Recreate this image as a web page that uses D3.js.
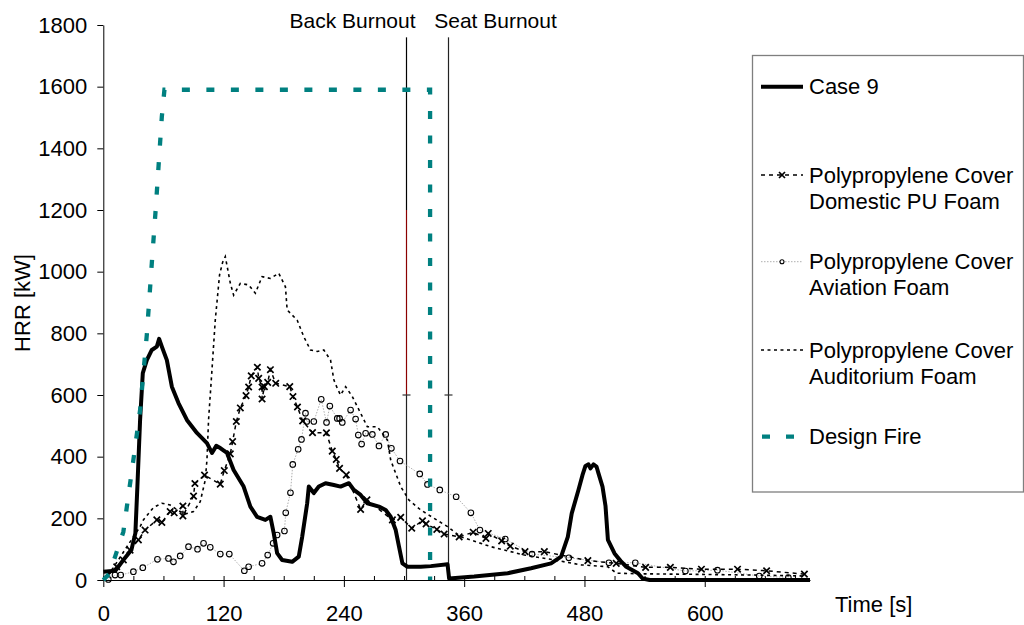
<!DOCTYPE html>
<html><head><meta charset="utf-8">
<script src="https://cdn.jsdelivr.net/npm/d3@7"></script>
<style>
body{margin:0;background:#fff;}
svg{display:block;font-family:Arial,"Liberation Sans",sans-serif;}
</style></head>
<body><svg id="chart" width="1024" height="625"></svg>
<script>
// ---- data (time [s], HRR [kW]) ----
const case9 = [[0,27],[12,30],[20,65],[28,97],[32,152],[34,303],[36.7,519],[39.4,671],[43.4,713],[48.4,746],[53.4,757],[55.7,782],[58.4,757],[63.4,713],[68.4,627],[75,574],[83.4,519],[93.4,477],[103.4,444],[108.4,412],[112.7,435],[116.7,428],[123.4,412],[130,357],[140,303],[146.7,238],[153.4,205],[161.7,195],[166.7,205],[170,152],[173.4,87],[178.4,65],[188.4,59],[195,76],[198.4,140],[203.4,249],[205,303],[210,282],[215,303],[221.7,314],[230,308],[236.7,303],[245,314],[250,292],[256.7,276],[263.4,249],[275,238],[281.7,227],[286.7,205],[291.7,162],[295,108],[298.4,54],[303.4,43],[316.7,43],[326.7,45],[343.4,51],[345,5],[370,11],[403.4,22],[426.7,38],[446.7,54],[456.7,76],[463.4,140],[467.3,216],[474,292],[478,340],[481,370],[484,375],[486,362],[489,375],[492,368],[494,346],[498,303],[501,240],[503.4,130],[510,86],[516,62],[521.7,43],[533.4,22],[538,5],[545,0],[705,0]];

const puFoam = [[0,0],[13.4,43],[20,65],[26.7,97],[35,130],[41.7,162],[53.4,195],[58.4,187],[66.7,222],[70.7,218],[79.4,240],[79.4,208],[90,272],[91.4,313],[101,340],[116.7,311],[120.7,355],[126.7,409],[129,449],[132.7,514],[136.7,558],[142.4,598],[145,626],[147.6,662],[153.7,690],[155,654],[158.4,626],[158.4,587],[160.7,627],[164,641],[166.7,682],[172,638],[186,627],[189.2,595],[193.7,561],[198.9,516],[208.7,478],[222.6,477],[228.4,418],[232.4,391],[235.7,362],[242.4,341],[256.7,229],[263,260],[288.4,195],[296.7,203],[307.7,168],[318.4,192],[322,182],[332.7,164],[340,149],[355,140],[369,155],[381.7,135],[384,151],[397.4,127],[406,110],[420.7,92],[440,92],[483.4,63],[511.7,54],[541,41],[565.7,41],[596.7,35],[632.7,35],[661.7,30],[699.4,19]];

const aviationFoam = [[5,2],[11.7,16],[17.4,16],[30,27],[39.4,40],[54,67],[65,70],[70,59],[76.7,78],[85,108],[94,100],[100,119],[106.7,106],[116.7,84],[125.7,84],[140.7,30],[145,43],[158.4,54],[164,81],[169.4,119],[173.4,146],[180.7,159],[182,218],[186.7,283],[189,375],[194.4,424],[197.7,456],[201.7,541],[203,514],[210,514],[217.4,586],[222.7,511],[226,564],[233.4,524],[235.7,524],[238.4,511],[246.7,551],[251.7,522],[254.4,470],[257.7,441],[261.7,476],[268.4,472],[275,435],[281.7,472],[287.4,427],[296,386],[315.7,344],[323.4,310],[335.7,292],[352,270],[366.7,218],[375.7,162],[401,133],[427.7,84],[464.4,72],[504.4,56],[530.7,56],[580.7,29],[612.7,32],[654.4,13],[683.4,8]];

const auditoriumFoam = [[0,0],[10,40],[20,90],[30,140],[36.7,173],[40,195],[50,235],[58.4,249],[66.7,243],[75,225],[82,214],[90,222],[96.7,254],[101.7,324],[103.4,389],[105,519],[108.4,681],[111.7,843],[116,990],[119,1030],[121.7,1049],[126.7,963],[130,924],[136.7,962],[145,957],[151.7,930],[158.4,984],[166.7,978],[175,995],[181.7,951],[183.4,876],[193.4,843],[200,789],[206.7,746],[213.4,741],[220,746],[226.7,713],[230,649],[233.4,622],[236.7,600],[241.7,627],[248.4,595],[256.7,541],[263.4,497],[273.4,497],[283.4,454],[286.7,389],[296.7,303],[305,259],[316.7,227],[330,200],[343.4,173],[356.7,140],[386.7,108],[420,81],[450,65],[476.7,49],[503.4,43],[512,22],[540,20],[600,18],[650,16],[700,13]];

const designFire = [[0,0],[6,20],[11.7,75],[20,156],[30,389],[36.7,551],[43.4,795],[48.4,1028],[52,1190],[58.4,1503],[61,1590],[326,1590],[326,0]];

const burnouts = [{label:"Back Burnout", t:301.7}, {label:"Seat Burnout", t:343.6}];
const burnoutTop = 1760, burnoutCap = 600, burnoutRedTop = 1200;

const yTicks = [0,200,400,600,800,1000,1200,1400,1600,1800];
const xTicks = [0,120,240,360,480,600];
const xMinorStep = 30;

const legendItems = [
  {key:"case9", lines:["Case 9"]},
  {key:"pu", lines:["Polypropylene Cover","Domestic PU Foam"]},
  {key:"av", lines:["Polypropylene Cover","Aviation Foam"]},
  {key:"aud", lines:["Polypropylene Cover","Auditorium Foam"]},
  {key:"df", lines:["Design Fire"]}
];

// ---- drawing ----
const svg = d3.select("#chart");
const x = d3.scaleLinear().domain([0,705]).range([103.3,810]);
const y = d3.scaleLinear().domain([0,1800]).range([580,25]);
const FS = 22;

// axes
const yAxis = svg.append("g").attr("transform",`translate(${x(0)},0)`)
  .call(d3.axisLeft(y).tickValues(yTicks).tickSize(6).tickSizeOuter(0).tickPadding(10).tickFormat(d3.format("d")));
const xMinor = svg.append("g").attr("transform",`translate(0,${y(0)})`)
  .call(d3.axisBottom(x).tickValues(d3.range(0,705,xMinorStep)).tickSize(-4).tickSizeOuter(0).tickFormat(""));
const xAxis = svg.append("g").attr("transform",`translate(0,${y(0)})`)
  .call(d3.axisBottom(x).tickValues(xTicks).tickSize(7).tickSizeOuter(0).tickPadding(18).tickFormat(d3.format("d")));
[yAxis,xAxis,xMinor].forEach(g=>{
  g.selectAll("text").attr("font-size",FS).attr("font-family","Arial, 'Liberation Sans', sans-serif").attr("fill","#000");
  g.selectAll("line,path").attr("stroke","#000");
});
xMinor.select(".domain").remove();

// axis titles
svg.append("text").attr("transform","translate(30,303) rotate(-90)")
  .attr("text-anchor","middle").attr("font-size",FS).text("HRR [kW]");
svg.append("text").attr("x",835).attr("y",612).attr("font-size",FS).text("Time [s]");

const line = d3.line().x(d=>x(d[0])).y(d=>y(d[1]));
const plot = svg.append("g");

// burnout lines
burnouts.forEach(b=>{
  const xp = Math.round(x(b.t))+0.5;
  const isBack = b.label.startsWith("Back");
  plot.append("line").attr("x1",xp).attr("x2",xp).attr("y1",y(burnoutTop)).attr("y2",y(burnoutRedTop)).attr("stroke",isBack?"#000":"#222").attr("stroke-width",1.2);
  plot.append("line").attr("x1",xp).attr("x2",xp).attr("y1",y(burnoutRedTop)).attr("y2",y(burnoutCap)).attr("stroke",isBack?"#8b0000":"#222").attr("stroke-width",1.2);
  plot.append("line").attr("x1",xp).attr("x2",xp).attr("y1",y(burnoutCap)).attr("y2",y(0)).attr("stroke","#222").attr("stroke-width",1.2);
  plot.append("line").attr("x1",xp-4).attr("x2",xp+4).attr("y1",y(burnoutCap)).attr("y2",y(burnoutCap)).attr("stroke","#333").attr("stroke-width",1.2);
  svg.append("text").attr("x",xp+(isBack?-54:47)).attr("y",28).attr("text-anchor","middle").attr("font-size",21).text(b.label);
});

// aviation foam: gray dotted + circles
plot.append("path").datum(aviationFoam).attr("d",line).attr("fill","none")
  .attr("stroke","#999").attr("stroke-width",0.8).attr("stroke-dasharray","1.5,1.5");
plot.selectAll(".avc").data(aviationFoam).enter().append("circle")
  .attr("cx",d=>x(d[0])).attr("cy",d=>y(d[1])).attr("r",2.8)
  .attr("fill","none").attr("stroke","#000").attr("stroke-width",1.1);

// PU foam: dashed + x markers
plot.append("path").datum(puFoam).attr("d",line).attr("fill","none")
  .attr("stroke","#000").attr("stroke-width",1.5).attr("stroke-dasharray","4,4");
const xMark = (g,cx,cy,s)=>{
  g.append("path").attr("d",`M${cx-s},${cy-s}L${cx+s},${cy+s}M${cx-s},${cy+s}L${cx+s},${cy-s}`)
   .attr("stroke","#000").attr("stroke-width",1.7).attr("fill","none");
};
puFoam.slice(1).forEach(d=>xMark(plot,x(d[0]),y(d[1]),3.2));

// auditorium foam: dotted
plot.append("path").datum(auditoriumFoam).attr("d",line).attr("fill","none")
  .attr("stroke","#000").attr("stroke-width",1.6).attr("stroke-dasharray","3,3.5");

// case 9
plot.append("path").datum(case9).attr("d",line).attr("fill","none")
  .attr("stroke","#000").attr("stroke-width",4).attr("stroke-linejoin","round");

// design fire
plot.append("path").datum(designFire).attr("d",line).attr("fill","none")
  .attr("stroke","#008080").attr("stroke-width",4.3).attr("stroke-dasharray","8,16.5");

// legend
const lg = svg.append("g");
lg.append("rect").attr("x",752.5).attr("y",55.5).attr("width",271).attr("height",436.5)
  .attr("fill","#fff").attr("stroke","#7f7f7f").attr("stroke-width",1.3);
const ly = {case9:86.7, pu:175, av:261.7, aud:350, df:436.7};
const lx1 = 761, lx2 = 803;
lg.append("line").attr("x1",lx1).attr("x2",lx2).attr("y1",ly.case9).attr("y2",ly.case9).attr("stroke","#000").attr("stroke-width",4);
lg.append("line").attr("x1",lx1).attr("x2",lx2).attr("y1",ly.pu).attr("y2",ly.pu).attr("stroke","#000").attr("stroke-width",1.5).attr("stroke-dasharray","4,4");
xMark(lg,782,ly.pu,3);
lg.append("line").attr("x1",lx1).attr("x2",lx2).attr("y1",ly.av).attr("y2",ly.av).attr("stroke","#999").attr("stroke-width",0.8).attr("stroke-dasharray","1.5,1.5");
lg.append("circle").attr("cx",782).attr("cy",ly.av).attr("r",2).attr("fill","#fff").attr("stroke","#000").attr("stroke-width",1.1);
lg.append("line").attr("x1",lx1).attr("x2",lx2).attr("y1",ly.aud).attr("y2",ly.aud).attr("stroke","#000").attr("stroke-width",1.5).attr("stroke-dasharray","3,3.5");
lg.append("line").attr("x1",lx1+1).attr("x2",lx2).attr("y1",ly.df).attr("y2",ly.df).attr("stroke","#008080").attr("stroke-width",4.3).attr("stroke-dasharray","8,16");
legendItems.forEach(it=>{
  const t = lg.append("text").attr("x",809).attr("y",ly[it.key]).attr("font-size",FS);
  it.lines.forEach((s,i)=>{
    t.append("tspan").attr("x",809).attr("dy", i===0? "0.35em" : "26px").text(s);
  });
});
</script></body></html>
